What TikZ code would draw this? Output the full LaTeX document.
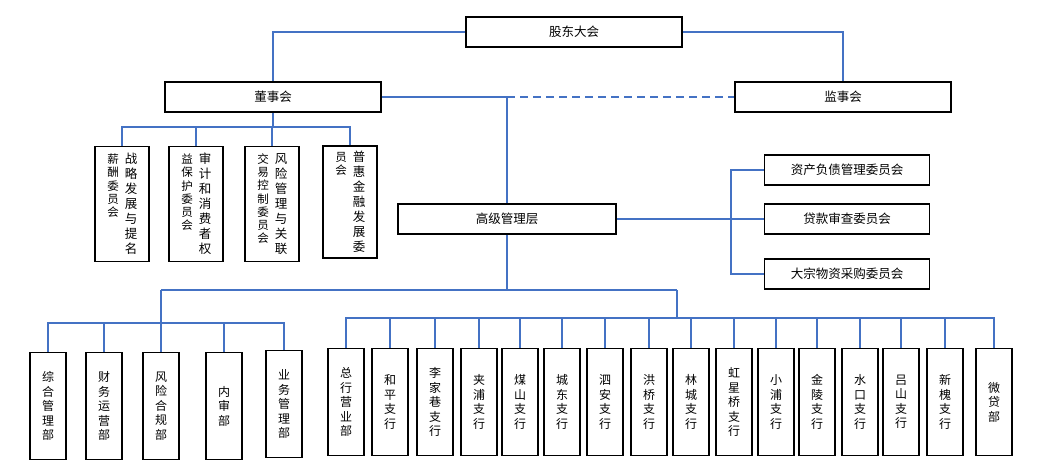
\documentclass[tikz,border=0pt]{standalone}
\usepackage{fontspec}
\setmainfont{Noto Sans CJK SC}
\definecolor{linkblue}{RGB}{68,114,196}
\tikzset{
  box/.style={draw=black, line width=1.8pt, fill=white, inner sep=0pt, font=\fontsize{12.5}{14}\selectfont},
  hbox/.style={box, minimum width=216pt, minimum height=30pt},
  rcbox/.style={box, minimum width=165pt, minimum height=30pt},
  cbox/.style={box, minimum width=54pt, minimum height=115pt},
  vbox/.style={box, minimum width=36pt, minimum height=107pt, align=center, font=\fontsize{12}{14.5}\selectfont},
  conn/.style={draw=linkblue, line width=1.5pt},
  dconn/.style={conn, dash pattern=on 8pt off 5pt}
}
\newcommand{\colA}[1]{\parbox[t]{13pt}{\centering\fontsize{11.5}{13.2}\selectfont #1}}
\newcommand{\colB}[1]{\parbox[t]{13pt}{\centering\fontsize{12.5}{15}\selectfont #1}}
\begin{document}
\begin{tikzpicture}[x=1pt,y=-1pt]
\useasboundingbox (0,0) rectangle (1055,467);
% top level
\node[hbox] (gd) at (574,32) {股东大会};
\node[hbox] (dsh) at (273,97) {董事会};
\node[hbox] (jsh) at (843,97) {监事会};
\node[hbox, minimum width=218pt] (gj) at (507,219) {高级管理层};
% senior management committees
\node[rcbox] (rc1) at (847,170) {资产负债管理委员会};
\node[rcbox] (rc2) at (847,219) {贷款审查委员会};
\node[rcbox] (rc3) at (847,274) {大宗物资采购委员会};
% board committees
\node[cbox] (c1) at (122,204) {\colA{薪\\酬\\委\\员\\会}\hspace{5pt}\colB{战\\略\\发\\展\\与\\提\\名}};
\node[cbox] (c2) at (196,204) {\colA{益\\保\\护\\委\\员\\会}\hspace{5pt}\colB{审\\计\\和\\消\\费\\者\\权}};
\node[cbox] (c3) at (272,204) {\colA{交\\易\\控\\制\\委\\员\\会}\hspace{5pt}\colB{风\\险\\管\\理\\与\\关\\联}};
\node[cbox, minimum height=112pt] (c4) at (350,202) {\colA{员\\会}\hspace{5pt}\colB{普\\惠\\金\\融\\发\\展\\委}};
% departments
\node[vbox] (d1) at (48,406) {综\\合\\管\\理\\部};
\node[vbox] (d2) at (104,406) {财\\务\\运\\营\\部};
\node[vbox] (d3) at (161,406) {风\\险\\合\\规\\部};
\node[vbox] (d4) at (224,406) {内\\审\\部};
\node[vbox] (d5) at (284,404) {业\\务\\管\\理\\部};
% branches
\node[vbox] (b1) at (346,402) {总\\行\\营\\业\\部};
\node[vbox] (b2) at (390,402) {和\\平\\支\\行};
\node[vbox] (b3) at (435,402) {李\\家\\巷\\支\\行};
\node[vbox] (b4) at (479,402) {夹\\浦\\支\\行};
\node[vbox] (b5) at (520,402) {煤\\山\\支\\行};
\node[vbox] (b6) at (562,402) {城\\东\\支\\行};
\node[vbox] (b7) at (605,402) {泗\\安\\支\\行};
\node[vbox] (b8) at (649,402) {洪\\桥\\支\\行};
\node[vbox] (b9) at (691,402) {林\\城\\支\\行};
\node[vbox] (b10) at (734,402) {虹\\星\\桥\\支\\行};
\node[vbox] (b11) at (776,402) {小\\浦\\支\\行};
\node[vbox] (b12) at (817,402) {金\\陵\\支\\行};
\node[vbox] (b13) at (860,402) {水\\口\\支\\行};
\node[vbox] (b14) at (901,402) {吕\\山\\支\\行};
\node[vbox] (b15) at (945,402) {新\\槐\\支\\行};
\node[vbox] (b16) at (994,402) {微\\贷\\部};
% junction coordinates
\coordinate (jA) at (507,97);
\coordinate (bus1) at (273,127);
\coordinate (rA) at (731,219);
\coordinate (bus2) at (507,290);
\coordinate (lg) at (161,290);
\coordinate (rg) at (677,290);
\coordinate (lbus) at (161,323);
\coordinate (rbus) at (677,318);
% connectors
\draw[conn] (gd.west) -| (dsh.north);
\draw[conn] (gd.east) -| (jsh.north);
\draw[conn] (dsh.east) -- (jA);
\draw[dconn] (jA) -- (jsh.west);
\draw[conn] (jA) -- (gj.north);
\draw[conn] (dsh.south) -- (bus1);
\foreach \n in {c1,c2,c3,c4} \draw[conn] (\n.north) |- (bus1);
\draw[conn] (gj.east) -- (rA);
\foreach \n in {rc1,rc2,rc3} \draw[conn] (\n.west) -| (rA);
\draw[conn] (gj.south) -- (bus2);
\draw[conn] (lg) -- (rg);
\draw[conn] (lg) -- (lbus);
\draw[conn] (rg) -- (rbus);
\foreach \n in {d1,d2,d3,d4,d5} \draw[conn] (\n.north) |- (lbus);
\foreach \n in {b1,b2,b3,b4,b5,b6,b7,b8,b9,b10,b11,b12,b13,b14,b15,b16} \draw[conn] (\n.north) |- (rbus);
\end{tikzpicture}
\end{document}
